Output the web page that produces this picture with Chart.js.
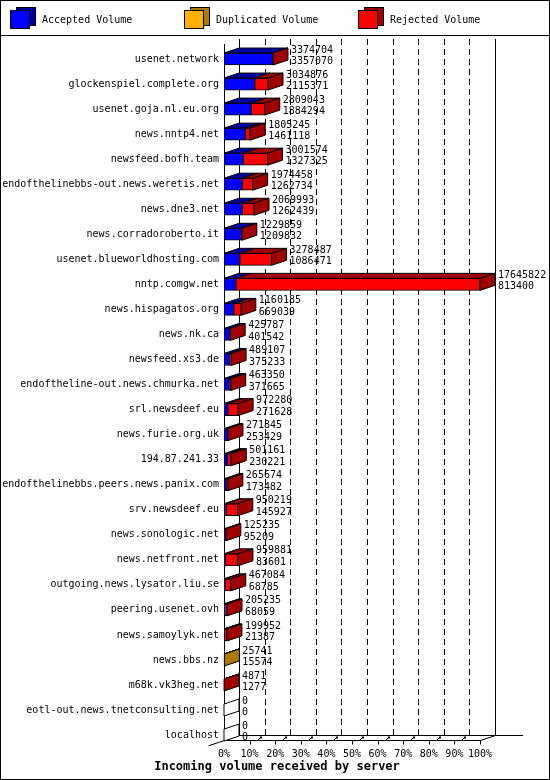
<!DOCTYPE html>
<html>
<head>
<meta charset="utf-8">
<script src="https://cdn.jsdelivr.net/npm/chart.js@4/dist/chart.umd.min.js"></script>
<style>
  body { margin: 0; background: #fff; }
  canvas { display: block; }
</style>
</head>
<body>
<canvas id="volChart" width="550" height="780"></canvas>
<script>
var servers = [
    'usenet.network', 'glockenspiel.complete.org', 'usenet.goja.nl.eu.org', 'news.nntp4.net',
    'newsfeed.bofh.team', 'endofthelinebbs-out.news.weretis.net', 'news.dne3.net', 'news.corradoroberto.it',
    'usenet.blueworldhosting.com', 'nntp.comgw.net', 'news.hispagatos.org', 'news.nk.ca',
    'newsfeed.xs3.de', 'endoftheline-out.news.chmurka.net', 'srl.newsdeef.eu', 'news.furie.org.uk',
    '194.87.241.33', 'endofthelinebbs.peers.news.panix.com', 'srv.newsdeef.eu', 'news.sonologic.net',
    'news.netfront.net', 'outgoing.news.lysator.liu.se', 'peering.usenet.ovh', 'news.samoylyk.net',
    'news.bbs.nz', 'm68k.vk3heg.net', 'eotl-out.news.tnetconsulting.net', 'localhost'
];

var acceptedVol = [
    3357070, 2115371, 1884294, 1461118, 1327325, 1262734, 1262439, 1209832,
    1086471, 813400, 669039, 401542, 375233, 371665, 271628, 253429,
    230221, 173482, 145927, 95209, 83601, 68785, 68059, 21387,
    15574, 1277, 0, 0
];

var duplicatedVol = [
    0, 0, 0, 0, 0, 0, 0, 0,
    0, 0, 0, 0, 0, 0, 0, 0,
    0, 0, 0, 0, 0, 0, 0, 0,
    10167, 0, 0, 0
];

var rejectedVol = [
    17634, 919505, 924749, 344127, 1674249, 711724, 807554, 20027,
    2192016, 16832422, 491146, 24245, 113874, 91685, 700652, 18416,
    270940, 92192, 804292, 30026, 876280, 398299, 137176, 178565,
    0, 3594, 0, 0
];

var xTickLabels = ['0%', '10%', '20%', '30%', '40%', '50%', '60%', '70%', '80%', '90%', '100%'];

var MONO = '"DejaVu Sans Mono", "Liberation Mono", monospace';
var DX = 15, DY = 5;

var totals = servers.map(function (s, i) {
    return acceptedVol[i] + duplicatedVol[i] + rejectedVol[i];
});
var maxTotal = Math.max.apply(null, totals);

function px(v) { return Math.round(v) + 0.5; }

function poly(ctx, pts, fill) {
    ctx.beginPath();
    ctx.moveTo(pts[0][0], pts[0][1]);
    for (var k = 1; k < pts.length; k++) ctx.lineTo(pts[k][0], pts[k][1]);
    ctx.closePath();
    if (fill) { ctx.fillStyle = fill; ctx.fill(); }
    ctx.stroke();
}

// walls, floor and dashed grid behind the bars
var backdrop = {
    id: 'backdrop',
    afterLayout: function (chart) {
        // title is centred on the whole picture, not between the paddings
        if (chart.titleBlock) {
            chart.titleBlock.left = 4;
            chart.titleBlock.right = 550;
            chart.titleBlock.width = 546;
        }
    },
    beforeDatasetsDraw: function (chart) {
        var ctx = chart.ctx, xs = chart.scales.x;
        var x0 = px(xs.getPixelForValue(0));
        var x100 = px(xs.getPixelForValue(maxTotal));
        var floorF = 740.5, floorB = 735.5, top = 39;
        ctx.save();
        ctx.strokeStyle = '#000';
        ctx.lineWidth = 1;
        ctx.setLineDash([6, 4]);
        for (var k = 1; k < 10; k++) {
            var gx = px(xs.getPixelForValue(maxTotal * k / 10) + DX);
            ctx.beginPath(); ctx.moveTo(gx, top); ctx.lineTo(gx, floorB); ctx.stroke();
        }
        ctx.setLineDash([]);
        ctx.beginPath();
        ctx.moveTo(x0 + DX, top); ctx.lineTo(x0 + DX, floorB);
        ctx.moveTo(x100 + DX, top); ctx.lineTo(x100 + DX, floorB);
        ctx.moveTo(x0, 44); ctx.lineTo(x0, floorF);
        ctx.moveTo(x0 + DX, floorB); ctx.lineTo(523, floorB);
        ctx.moveTo(x0, floorF); ctx.lineTo(x100, floorF); ctx.lineTo(x100 + DX, floorB);
        ctx.moveTo(x0 - 16, floorF + 5.3); ctx.lineTo(x0 + DX, floorB);
        ctx.stroke();
        // tick marks on the floor
        for (var t = 1; t <= 10; t++) {
            var tx = px(xs.getPixelForValue(maxTotal * t / 10));
            ctx.beginPath(); ctx.moveTo(tx, floorF); ctx.lineTo(tx, floorF + 4); ctx.stroke();
            if (t < 10) {
                ctx.beginPath(); ctx.moveTo(tx + 7, floorF); ctx.lineTo(tx + 10, floorF - 3); ctx.stroke();
                ctx.fillStyle = '#000';
                ctx.fillRect(tx + 9.5, floorF - 4, 2, 2);
            }
        }
        ctx.restore();
    }
};

// top and side faces of each bar, plus value labels
var depth = {
    id: 'depth',
    afterDatasetsDraw: function (chart) {
        var ctx = chart.ctx, xs = chart.scales.x;
        ctx.save();
        ctx.strokeStyle = '#000';
        ctx.lineWidth = 1;
        servers.forEach(function (name, i) {
            var endX = xs.getPixelForValue(0), lastDark = '#ffffff', yTop = 0, yBot = 0;
            chart.data.datasets.forEach(function (ds, d) {
                var el = chart.getDatasetMeta(d).data[i];
                var p = el.getProps(['x', 'y', 'base', 'height'], true);
                yTop = p.y - p.height / 2; yBot = p.y + p.height / 2;
                var l = Math.min(p.x, p.base), r = Math.max(p.x, p.base);
                if (ds.data[i] > 0) {
                    poly(ctx, [[l, yTop], [r, yTop], [r + DX, yTop - DY], [l + DX, yTop - DY]], ds.darkColor);
                    lastDark = ds.darkColor;
                    endX = Math.max(endX, r);
                }
            });
            poly(ctx, [[endX, yTop], [endX + DX, yTop - DY], [endX + DX, yBot - DY], [endX, yBot]], lastDark);
            ctx.fillStyle = '#000';
            ctx.font = '10px ' + MONO;
            ctx.textBaseline = 'middle';
            ctx.textAlign = 'left';
            ctx.fillText(String(totals[i]), endX + DX + 3, yTop - 3);
            ctx.fillText(String(acceptedVol[i]), endX + DX + 3, yTop + 8.5);
        });
        ctx.restore();
    }
};

// legend band and outer frame
var frame = {
    id: 'frame',
    afterDraw: function (chart) {
        var ctx = chart.ctx;
        var xs = [10, 184, 358];
        ctx.save();
        ctx.strokeStyle = '#000';
        ctx.lineWidth = 1;
        chart.data.datasets.forEach(function (ds, d) {
            var x = xs[d];
            ctx.fillStyle = ds.darkColor;
            ctx.fillRect(x + 6, 7.5, 19, 18); ctx.strokeRect(x + 6.5, 7.5, 19, 18);
            ctx.fillStyle = ds.backgroundColor;
            ctx.fillRect(x, 10.5, 19, 18); ctx.strokeRect(x + 0.5, 10.5, 19, 18);
            ctx.fillStyle = '#000';
            ctx.font = '10px ' + MONO;
            ctx.textBaseline = 'middle';
            ctx.fillText(ds.label, x + 32, 20);
        });
        ctx.beginPath();
        ctx.moveTo(0, 35.5); ctx.lineTo(550, 35.5);
        ctx.stroke();
        ctx.strokeRect(0.5, 0.5, 549, 779);
        ctx.restore();
    }
};

var barBase = { barThickness: 12, borderWidth: 1, borderColor: '#000', borderSkipped: false };

var volChart = new Chart(document.getElementById('volChart'), {
    type: 'bar',
    data: {
        labels: servers,
        datasets: [
            Object.assign({ label: 'Accepted Volume', data: acceptedVol, backgroundColor: '#0000ff', darkColor: '#0000a0' }, barBase),
            Object.assign({ label: 'Duplicated Volume', data: duplicatedVol, backgroundColor: '#ffb000', darkColor: '#b07800' }, barBase),
            Object.assign({ label: 'Rejected Volume', data: rejectedVol, backgroundColor: '#ff0000', darkColor: '#a00000' }, barBase)
        ]
    },
    options: {
        indexAxis: 'y',
        responsive: false,
        animation: false,
        devicePixelRatio: 1,
        layout: { padding: { left: 2, right: 70, top: 46.5, bottom: 6 } },
        scales: {
            x: {
                stacked: true,
                min: 0,
                max: maxTotal,
                grid: { display: false, drawTicks: false },
                border: { display: false },
                afterBuildTicks: function (scale) {
                    scale.ticks = xTickLabels.map(function (t, k) { return { value: maxTotal * k / 10 }; });
                },
                afterFit: function (scale) { scale.height = 12; },
                ticks: {
                    autoSkip: false,
                    maxRotation: 0,
                    padding: 1,
                    color: '#000',
                    font: { family: MONO, size: 10 },
                    callback: function (v, idx) { return xTickLabels[idx]; }
                }
            },
            y: {
                stacked: true,
                grid: { display: false, drawTicks: false },
                border: { display: false },
                afterFit: function (scale) { scale.width = 222; },
                ticks: {
                    autoSkip: false,
                    padding: 5,
                    color: '#000',
                    font: { family: MONO, size: 10 }
                }
            }
        },
        plugins: {
            legend: { display: false },
            tooltip: { enabled: false },
            title: {
                display: true,
                position: 'bottom',
                text: 'Incoming volume received by server',
                color: '#000',
                font: { family: MONO, size: 12, weight: 'bold' },
                padding: { top: 0, bottom: 0 }
            }
        }
    },
    plugins: [backdrop, depth, frame]
});
</script>
</body>
</html>
